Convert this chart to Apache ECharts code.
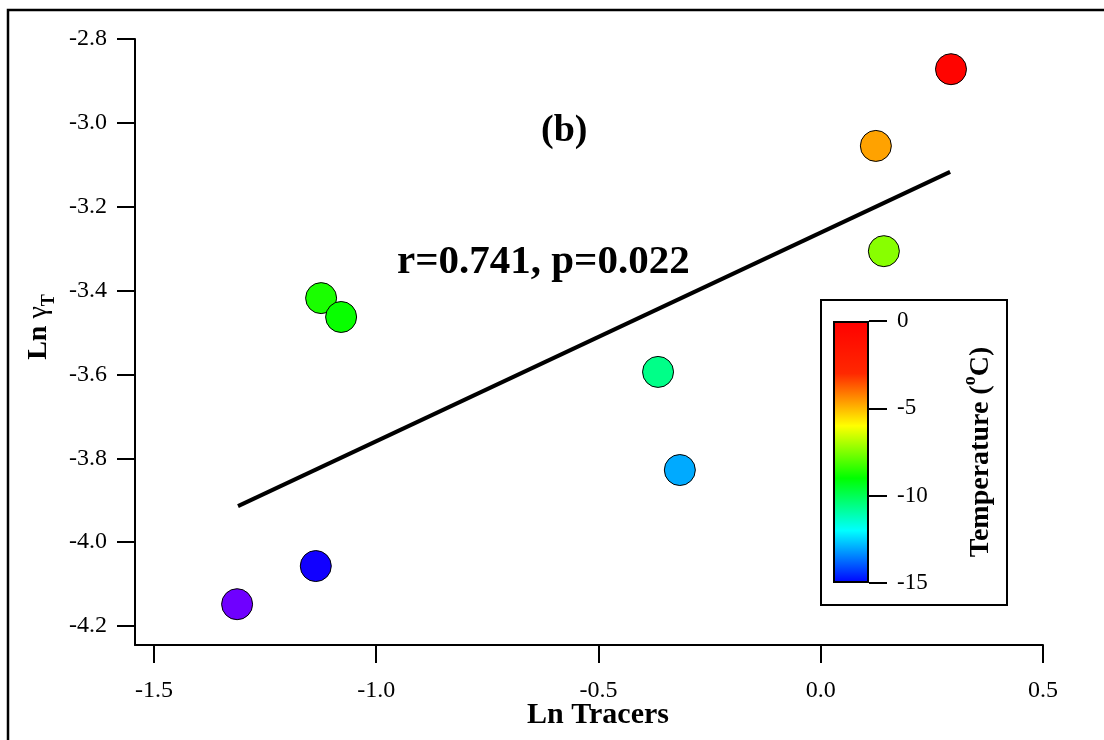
<!DOCTYPE html>
<html>
<head>
<meta charset="utf-8">
<script src="https://cdn.jsdelivr.net/npm/echarts@6/dist/echarts.min.js"></script>
<style>
  html, body { margin: 0; padding: 0; background: #fff; }
  #chart { width: 1104px; height: 740px; }
</style>
</head>
<body>
<div id="chart"></div>
<script>
const lnTracers = [-1.313, -1.136, -1.124, -1.079, -0.366, -0.317, 0.124, 0.142, 0.293];
const lnGamma = [-4.148, -4.057, -3.418, -3.463, -3.594, -3.828, -3.055, -3.306, -2.872];
const temps = [-17.6, -15.4, -8.7, -8.9, -10.6, -13.0, -4.7, -7.4, -0.3];

const fitX = [-1.311, 0.291];
const fitY = [-3.914, -3.117];

const xTicks = [-1.5, -1.0, -0.5, 0.0, 0.5];
const yTicks = [-4.2, -4.0, -3.8, -3.6, -3.4, -3.2, -3.0, -2.8];
// colour stops every 3 degrees from -18 to 0
const rainbow = ["#8000ff", "#0000ff", "#00ffff", "#00ff00", "#ffff00", "#ff2800", "#ff0000"];
const barColors = rainbow.slice(1);

const font = "Liberation Serif";
const chart = echarts.init(document.getElementById("chart"));

const axisBase = {
  axisLine: { onZero: false, lineStyle: { color: "#000", width: 2 } },
  axisTick: { length: 18, lineStyle: { color: "#000", width: 2 } },
  splitLine: { show: false },
};

chart.setOption({
  animation: false,
  grid: [
    { left: 135, top: 39, right: 61, bottom: 95, outerBoundsMode: "none" },
    { left: 833, top: 321, right: 235, bottom: 157, outerBoundsMode: "none" },
  ],
  xAxis: [
    {
      ...axisBase,
      type: "value",
      min: -1.5427,
      max: 0.5,
      axisTick: { ...axisBase.axisTick, customValues: xTicks },
      axisLabel: {
        customValues: xTicks,
        formatter: (v) => v.toFixed(1),
        margin: 34,
        color: "#000",
        fontFamily: font,
        fontSize: 24,
      },
      name: "Ln Tracers",
      nameLocation: "middle",
      nameGap: 55,
      nameMoveOverlap: false,
      nameTextStyle: { fontFamily: font, fontSize: 30, fontWeight: "bold", color: "#000", padding: [0, 0, 0, 18] },
    },
    { gridIndex: 1, type: "category", data: [""], show: false },
  ],
  yAxis: [
    {
      ...axisBase,
      type: "value",
      min: -4.2453,
      max: -2.8,
      axisTick: { ...axisBase.axisTick, customValues: yTicks },
      axisLabel: {
        customValues: yTicks,
        formatter: (v) => v.toFixed(1),
        margin: 28,
        color: "#000",
        fontFamily: font,
        fontSize: 24,
      },
      name: "{m|Ln }{g|γ}{s|T}",
      nameLocation: "middle",
      nameRotate: 90,
      nameGap: 73,
      nameTextStyle: {
        padding: [0, 0, 0, 30],
        rich: {
          m: { fontFamily: font, fontSize: 28, fontWeight: "bold", color: "#000", lineHeight: 38 },
          g: { fontFamily: font, fontSize: 28, color: "#000", lineHeight: 38 },
          s: { fontFamily: font, fontSize: 18, fontWeight: "bold", color: "#000", lineHeight: 20, verticalAlign: "bottom" },
        },
      },
    },
    {
      gridIndex: 1,
      type: "value",
      position: "right",
      min: -15,
      max: 0,
      interval: 5,
      axisLine: { show: false },
      axisTick: { show: true, length: 18, lineStyle: { color: "#000", width: 2 } },
      axisLabel: { margin: 28, color: "#000", fontFamily: font, fontSize: 23 },
      splitLine: { show: false },
      name: "{t|Temperature (}{p|o}{t|C)}",
      nameLocation: "middle",
      nameRotate: 90,
      nameGap: 92,
      nameTextStyle: {
        rich: {
          t: { fontFamily: font, fontSize: 28, fontWeight: "bold", color: "#000", lineHeight: 40 },
          p: { fontFamily: font, fontSize: 18, fontWeight: "bold", color: "#000", lineHeight: 20, verticalAlign: "top" },
        },
      },
    },
  ],
  visualMap: {
    show: false,
    seriesIndex: 0,
    dimension: 2,
    min: -18,
    max: 0,
    inRange: { color: rainbow },
  },
  series: [
    {
      type: "scatter",
      symbolSize: 31,
      itemStyle: { borderColor: "#000", borderWidth: 1, opacity: 1 },
      data: lnTracers.map((x, i) => [x, lnGamma[i], temps[i]]),
      z: 3,
    },
    {
      type: "line",
      data: fitX.map((x, i) => [x, fitY[i]]),
      symbol: "none",
      lineStyle: { color: "#000", width: 4 },
      z: 2,
    },
    {
      type: "bar",
      xAxisIndex: 1,
      yAxisIndex: 1,
      data: [-15],
      barWidth: "100%",
      itemStyle: {
        borderColor: "#000",
        borderWidth: 2,
        color: new echarts.graphic.LinearGradient(0, 0, 0, 1,
          barColors.slice().reverse().map((c, i) => ({ offset: i / (barColors.length - 1), color: c }))),
      },
    },
  ],
  graphic: [
    { type: "rect", shape: { x: 8, y: 10, width: 1200, height: 800 }, style: { fill: "none", stroke: "#000", lineWidth: 2.5 }, silent: true },
    { type: "rect", shape: { x: 821, y: 300, width: 186, height: 305 }, style: { fill: "#fff", stroke: "#000", lineWidth: 2 }, z: -1 },
    { type: "text", left: 541, top: 112, style: { text: "(b)", font: `bold 38px "${font}"`, fill: "#000" } },
    { type: "text", left: 397, top: 242, style: { text: "r=0.741, p=0.022", font: `bold 41px "${font}"`, fill: "#000" } },
  ],
});

window.addEventListener("resize", () => chart.resize());
</script>
</body>
</html>
